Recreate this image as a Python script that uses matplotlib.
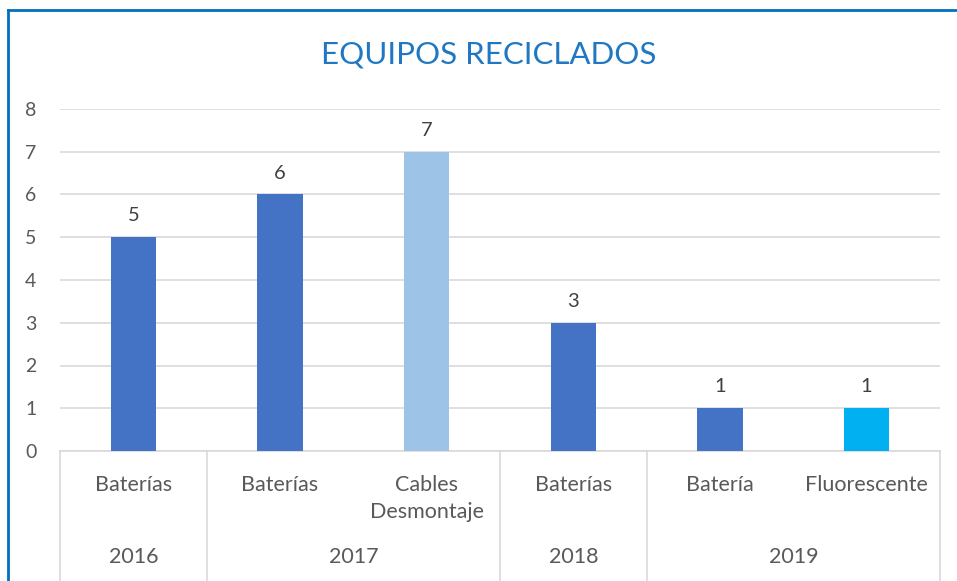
import matplotlib
matplotlib.use("Agg")
import matplotlib.pyplot as plt
from matplotlib.lines import Line2D

# data
items = ["Baterías", "Baterías", "Cables\nDesmontaje", "Baterías", "Batería", "Fluorescente"]
years = ["2016", "2017", "2017", "2018", "2019", "2019"]
values = [5, 6, 7, 3, 1, 1]
colors = ["#4472C4", "#4472C4", "#9DC3E6", "#4472C4", "#4472C4", "#00B0F0"]

plt.rcParams["font.family"] = ["Lato", "DejaVu Sans"]
W, H = 957, 581
fig = plt.figure(figsize=(W / 100, H / 100), dpi=100)
ax = fig.add_axes([60 / W, (H - 451) / H, 880 / W, 342 / H])

x = list(range(len(values)))
bars = ax.bar(x, values, width=0.31, color=colors, zorder=3)
for xi, v in zip(x, values):
    ax.text(xi, v + 0.3, str(v), ha="center", va="bottom", fontsize=14.5, color="#404040")

ax.set_xlim(-0.5, len(values) - 0.5)
ax.set_ylim(0, 8)
ax.set_yticks(range(0, 9))
ax.grid(axis="y", color="#D9D9D9", linewidth=1.2, zorder=0)
ax.tick_params(axis="y", length=0, pad=17, labelsize=14, labelcolor="#595959")
ax.set_xticks([])
for s in ["top", "right", "left"]:
    ax.spines[s].set_visible(False)
ax.spines["bottom"].set_color("#D9D9D9")
ax.spines["bottom"].set_linewidth(1.2)

# multi-level category axis
tr = ax.get_xaxis_transform()
for xi, lab in zip(x, items):
    ax.text(xi, -0.071, lab, transform=tr, ha="center", va="top", fontsize=15.5,
            color="#595959", linespacing=1.45, clip_on=False)

groups = []
for i, y in enumerate(years):
    if groups and groups[-1][0] == y:
        groups[-1][2] = i
    else:
        groups.append([y, i, i])
bottom = -(H - 451) / 342
for y, i0, i1 in groups:
    ax.text((i0 + i1) / 2, -0.31, y, transform=tr, ha="center", va="center",
            fontsize=15.5, color="#595959", clip_on=False)
    ax.add_line(Line2D([i0 - 0.5, i0 - 0.5], [0, bottom], transform=tr,
                       color="#D9D9D9", linewidth=1.2, clip_on=False))
ax.add_line(Line2D([len(values) - 0.5] * 2, [0, bottom], transform=tr,
                   color="#D9D9D9", linewidth=1.2, clip_on=False))

fig.text(489 / W, 1 - 55 / H, "EQUIPOS RECICLADOS", ha="center", va="center",
         fontsize=22.5, color="#1F78C1")

# blue frame (top and left edges visible)
fig.add_artist(Line2D([8 / W, 1], [1 - 10 / H] * 2, color="#0070C0", linewidth=2))
fig.add_artist(Line2D([8 / W] * 2, [0, 1 - 10 / H], color="#0070C0", linewidth=2))

fig.savefig("out.png", dpi=100)
